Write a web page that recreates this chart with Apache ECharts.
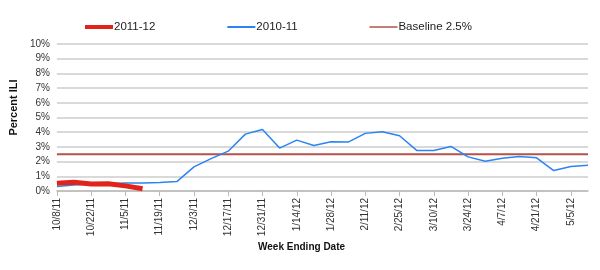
<!DOCTYPE html>
<html>
<head>
<meta charset="utf-8">
<script src="https://cdn.jsdelivr.net/npm/echarts@6/dist/echarts.min.js"></script>
<style>
  html, body { margin: 0; padding: 0; background: #fff; }
  #chart { width: 600px; height: 270px; }
</style>
</head>
<body>
<div id="chart"></div>
<script>
const weeks = [
  "10/8/11", "10/15/11", "10/22/11", "10/29/11", "11/5/11", "11/12/11", "11/19/11", "11/26/11",
  "12/3/11", "12/10/11", "12/17/11", "12/24/11", "12/31/11", "1/7/12", "1/14/12", "1/21/12",
  "1/28/12", "2/4/12", "2/11/12", "2/18/12", "2/25/12", "3/3/12", "3/10/12", "3/17/12",
  "3/24/12", "3/31/12", "4/7/12", "4/14/12", "4/21/12", "4/28/12", "5/5/12", "5/12/12"
];
const season1112 = [0.52, 0.6, 0.48, 0.5, 0.35, 0.15];
const season1011 = [
  0.3, 0.4, 0.47, 0.5, 0.55, 0.55, 0.58, 0.64,
  1.64, 2.2, 2.71, 3.87, 4.19, 2.92, 3.46, 3.1,
  3.35, 3.33, 3.92, 4.03, 3.76, 2.76, 2.76, 3.03,
  2.32, 2.03, 2.23, 2.35, 2.26, 1.39, 1.67, 1.76
];
const baseline = weeks.map(() => 2.5);

const chart = echarts.init(document.getElementById("chart"));
const font = "Liberation Sans, Arial, sans-serif";

chart.setOption({
  animation: false,
  textStyle: { fontFamily: font },
  grid: { left: 53, right: 12, top: 44, bottom: 79 },
  legend: {
    left: 83,
    top: 21,
    padding: 0,
    itemGap: 71,
    itemWidth: 28,
    itemHeight: 8,
    itemStyle: { opacity: 0 },
    textStyle: { fontSize: 11.5, color: "#222", fontFamily: font, padding: [0, 0, 0, -4] },
    data: [
      { name: "2011-12", lineStyle: { width: 4 } },
      { name: "2010-11", lineStyle: { width: 2 } },
      { name: "Baseline 2.5%", lineStyle: { width: 1.5 } }
    ]
  },
  xAxis: {
    type: "category",
    data: weeks,
    boundaryGap: false,
    axisLine: { lineStyle: { color: "#bbb", width: 1.5 } },
    axisTick: { interval: 1, length: 5, lineStyle: { color: "#bbb" } },
    axisLabel: { interval: 1, rotate: 90, fontSize: 10, color: "#333", margin: 7 }
  },
  yAxis: {
    type: "value",
    min: 0,
    max: 10,
    interval: 1,
    name: "Percent ILI",
    nameLocation: "middle",
    nameRotate: 90,
    nameGap: 32,
    nameTextStyle: { fontSize: 11, fontWeight: "bold", color: "#111", padding: [0, 0, 0, 20] },
    axisLine: { show: false },
    axisTick: { show: false },
    axisLabel: { formatter: "{value}%", fontSize: 10, color: "#333", margin: 7 },
    splitLine: { lineStyle: { color: "#ccc", width: 1.5 } }
  },
  graphic: [{
    type: "text",
    left: 258,
    top: 242,
    style: { text: "Week Ending Date", font: "bold 10px " + font, fill: "#111" }
  }],
  series: [
    {
      name: "2011-12",
      type: "line",
      data: season1112,
      symbol: "none",
      z: 4,
      lineStyle: { color: "#e2231a", width: 5 },
      itemStyle: { color: "#e2231a" }
    },
    {
      name: "2010-11",
      type: "line",
      data: season1011,
      symbol: "none",
      z: 3,
      lineStyle: { color: "#2a84f2", width: 1.5 },
      itemStyle: { color: "#2a84f2" }
    },
    {
      name: "Baseline 2.5%",
      type: "line",
      data: baseline,
      symbol: "none",
      z: 2,
      lineStyle: { color: "#b5524a", width: 2 },
      itemStyle: { color: "#b5524a" }
    }
  ]
});
</script>
</body>
</html>
